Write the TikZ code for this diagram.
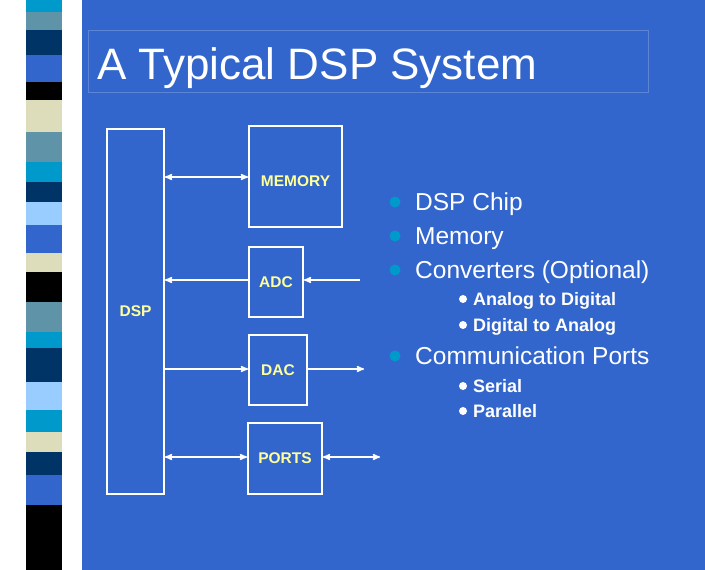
\documentclass[tikz,border=0pt]{standalone}
\usepackage{fontspec}
\setmainfont{Liberation Sans}
\usetikzlibrary{positioning, arrows}
\definecolor{slide}{HTML}{3366CC}
\definecolor{lbl}{HTML}{FFFF99}
\definecolor{dot}{HTML}{0099CC}
\definecolor{navy}{HTML}{003366}
\definecolor{gblue}{HTML}{5F93A8}
\definecolor{sky}{HTML}{99CCFF}
\definecolor{beige}{HTML}{DDDDBB}
\tikzset{%
    % boxes of the block diagram
    block/.style = {draw=white, line width=1.8pt, rectangle, inner sep=0pt,
    text=lbl, font=\bfseries\fontsize{15.5}{18}\selectfont},
    arc/.style   = {->, >=stealth', line width=1.5pt, white},
    % bullet list
    item/.style  = {anchor=base west, inner sep=0pt, text=white,
    font=\fontsize{24.5}{28}\selectfont},
    subitem/.style = {anchor=base west, inner sep=0pt, text=white,
    font=\bfseries\fontsize{18}{21}\selectfont}
}
\begin{document}
\begin{tikzpicture}[x=1pt, y=-1pt]

	% fond et bande
	\fill[white] (0,0) rectangle (705,570);
	\fill[slide] (82,0) rectangle (705,570);
	\foreach \a/\b/\c in {0/12/dot, 12/30/gblue, 30/55/navy, 55/82/slide,
	    82/100/black, 100/132/beige, 132/162/gblue, 162/182/dot,
	    182/202/navy, 202/225/sky, 225/253/slide, 253/272/beige,
	    272/302/black, 302/332/gblue, 332/348/dot, 348/382/navy,
	    382/410/sky, 410/432/dot, 432/452/beige, 452/475/navy,
	    475/505/slide, 505/570/black}
	    \fill[\c] (26,\a) rectangle (62,\b);

	% titre
	\node[draw=slide!80!white, minimum width=560pt, minimum height=62pt,
	    inner sep=0pt] (tbox) at (368,61) {};
	\node[anchor=base west, inner sep=0pt, text=white,
	    font=\fontsize{44}{50}\selectfont] (title) at (97,79) {A Typical DSP System};

	% placement des noeuds
	\node[block, minimum width=57pt, minimum height=365pt] (dsp) at (135.5,311.5) {DSP};
	\node[block, minimum width=93pt, minimum height=101pt] (mem) at (295.5,176.5) {};
	\node[text=lbl, font=\bfseries\fontsize{15.5}{18}\selectfont] at (295.5,181) {MEMORY};
	\node[block, minimum width=54pt, minimum height=70pt] (adc) at (276,282) {ADC};
	\node[block, minimum width=58pt, minimum height=70pt] (dac) at (278,370) {DAC};
	\node[block, minimum width=74pt, minimum height=71pt] (ports) at (285,458.5) {PORTS};
	\coordinate (ain) at (360,280);
	\coordinate (aout) at (364,369);
	\coordinate (pout) at (380,457);

	\draw[arc, <->] (dsp.east |- 0,177) -- (mem.west |- 0,177);
	\draw[arc] (adc.west |- 0,280) -- (dsp.east |- 0,280);
	\draw[arc] (ain) -- (adc.east |- ain);
	\draw[arc] (dsp.east |- 0,369) -- (dac.west |- 0,369);
	\draw[arc] (dac.east |- aout) -- (aout);
	\draw[arc, <->] (dsp.east |- 0,457) -- (ports.west |- 0,457);
	\draw[arc, <->] (ports.east |- pout) -- (pout);

	% liste
	\foreach \y/\t in {210/DSP Chip, 244/Memory, 278/Converters (Optional),
	    364/Communication Ports} {
	    \fill[dot] (395,\y-8) circle (5.5pt);
	    \node[item] at (415,\y) {\t};
	}
	\foreach \y/\t in {305/Analog to Digital, 331/Digital to Analog,
	    392/Serial, 417/Parallel} {
	    \fill[white] (463,\y-6) circle (4pt);
	    \node[subitem] at (473,\y) {\t};
	}

\end{tikzpicture}
\end{document}
